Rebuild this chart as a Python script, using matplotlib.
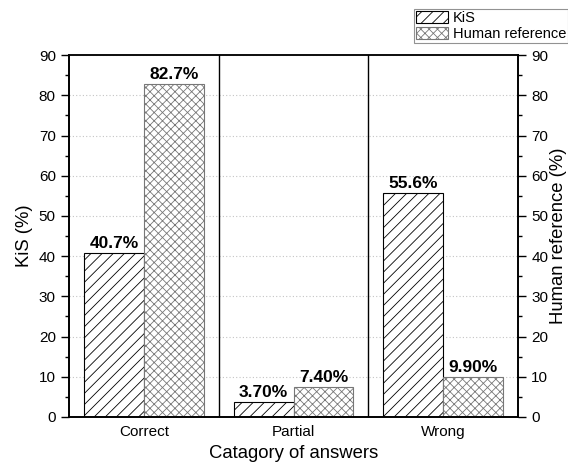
import matplotlib
matplotlib.use("Agg")
import matplotlib.pyplot as plt
import numpy as np

plt.rcParams['font.family'] = ['Liberation Sans', 'DejaVu Sans']
plt.rcParams['hatch.linewidth'] = 0.6

# values
categories = ["Correct", "Partial", "Wrong"]
kis = [40.7, 3.70, 55.6]
human = [82.7, 7.40, 9.90]
kis_labels = ["40.7%", "3.70%", "55.6%"]
human_labels = ["82.7%", "7.40%", "9.90%"]

x = np.arange(len(categories))
w = 0.4

fig = plt.figure(figsize=(5.68, 4.63), dpi=100)
ax = fig.add_axes([0.1215, 0.0994, 0.7905, 0.7816])

ax.yaxis.grid(True, linestyle=(0, (1, 2)), color='#c4c4c4', linewidth=0.8)
ax.set_axisbelow(True)

b1 = ax.bar(x - w / 2, kis, w, facecolor='white', edgecolor='black',
            hatch='///', linewidth=0.8, label='KiS', zorder=2)
b2 = ax.bar(x + w / 2, human, w, facecolor='white', edgecolor='#777777',
            hatch='xxxx', linewidth=0.8, label='Human reference', zorder=2)

for xi, v, t in zip(x - w / 2, kis, kis_labels):
    ax.text(xi, v + 0.6, t, ha='center', va='bottom', fontsize=12.5, fontweight='bold')
for xi, v, t in zip(x + w / 2, human, human_labels):
    ax.text(xi, v + 0.6, t, ha='center', va='bottom', fontsize=12.5, fontweight='bold')

# separators between categories
for s in [0.5, 1.5]:
    ax.axvline(s, color='black', linewidth=1.0, zorder=3)

ax.set_xlim(-0.5, 2.5)
ax.set_ylim(0, 90)
ax.set_yticks(np.arange(0, 91, 10))
ax.set_yticks(np.arange(5, 90, 10), minor=True)
ax.set_xticks(x)
ax.set_xticklabels(categories)
ax.tick_params(axis='x', length=0, labelsize=11, pad=6)
ax.tick_params(axis='y', which='major', length=6, width=1, labelsize=11, direction='out')
ax.tick_params(axis='y', which='minor', length=3, width=1, direction='out')
ax.set_xlabel("Catagory of answers", fontsize=13.3)
ax.set_ylabel("KiS (%)", fontsize=13.3)

ax2 = ax.twinx()
ax2.set_ylim(0, 90)
ax2.set_yticks(np.arange(0, 91, 10))
ax2.set_yticks(np.arange(5, 90, 10), minor=True)
ax2.tick_params(axis='y', which='major', length=6, width=1, labelsize=11, direction='out')
ax2.tick_params(axis='y', which='minor', length=3, width=1, direction='out')
ax2.set_ylabel("Human reference (%)", fontsize=13.3, labelpad=1)

for a in (ax, ax2):
    for sp in a.spines.values():
        sp.set_linewidth(1.2)
ax.spines['top'].set_color('#555555')

leg = fig.legend(handles=[b1, b2], loc='upper left', bbox_to_anchor=(414 / 568, 1 - 9 / 463),
                 fontsize=10.5, frameon=True, fancybox=False, edgecolor='#777777',
                 handlelength=2.2, handleheight=0.9, handletextpad=0.3,
                 borderpad=0.15, labelspacing=0.1, borderaxespad=0)
leg.get_frame().set_linewidth(0.8)

fig.savefig("out.png", dpi=100)
